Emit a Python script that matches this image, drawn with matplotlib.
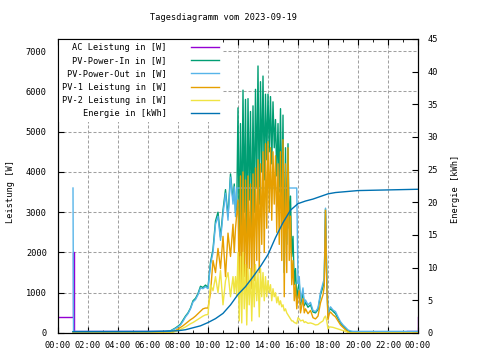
import matplotlib
matplotlib.use("Agg")
import matplotlib.pyplot as plt
import numpy as np


# "HH:MM" -> hours since midnight
def hours(stamps):
    return np.array([int(s[:2]) + int(s[3:]) / 60 for s in stamps])


title = "Tagesdiagramm vom 2023-09-19"
xtick_labels = ["00:00", "02:00", "04:00", "06:00", "08:00", "10:00", "12:00",
                "14:00", "16:00", "18:00", "20:00", "22:00", "00:00"]

# AC power (mostly hidden below PV-Power-Out during the day)
ac_time = ["00:00", "00:58", "01:02", "02:24", "03:00", "07:20", "23:16", "24:00"]
ac_w = [400, 2000, 40, 55, 40, np.nan, 50, 400]

# common time grid of the power series
power_time = [
    "01:00", "01:02", "06:00", "07:00", "07:20",
    "07:30", "07:40", "07:50", "08:00", "08:10", "08:20", "08:30", "08:40", "08:50",
    "09:00", "09:10", "09:20", "09:30", "09:40", "09:50",
    "10:00", "10:10", "10:20", "10:30", "10:40", "10:50",
    "11:00", "11:10", "11:20", "11:30", "11:40", "11:45",
    "11:50", "11:55", "12:00", "12:05", "12:10", "12:15", "12:20", "12:25", "12:30", "12:35",
    "12:40", "12:45", "12:50", "12:55", "13:00", "13:05", "13:10", "13:15", "13:20", "13:25",
    "13:30", "13:35", "13:40", "13:45", "13:50", "13:55", "14:00", "14:05", "14:10", "14:15",
    "14:20", "14:25", "14:30", "14:35", "14:40", "14:45", "14:50", "14:55", "15:00", "15:05",
    "15:10", "15:15", "15:20", "15:25", "15:30", "15:35", "15:40", "15:45", "15:50", "15:55",
    "16:00", "16:05", "16:10", "16:20", "16:25", "16:30", "16:40", "16:50",
    "17:00", "17:10", "17:20", "17:30", "17:40", "17:45", "17:50", "17:55",
    "18:00", "18:05", "18:10", "18:20", "18:30", "18:40", "18:50",
    "19:00", "19:10", "19:20", "19:30", "19:40", "19:50",
    "20:00", "21:00", "22:00", "23:00", "23:59",
]

pv_in = [
    30, 30, 30, 30, 45,
    55, 90, 125, 170, 220, 320, 420, 500, 620,
    800, 860, 980, 1160, 1130, 1190,
    1130, 1760, 2080, 2780, 3000, 2380,
    3050, 3560, 2900, 3950, 3300, 3700,
    3000, 3100, 5590, 2400, 5200, 2600, 6030, 3000, 5800, 2200,
    5820, 3300, 5500, 2500, 5640, 3000, 6050, 3600, 6630, 3200,
    6240, 4000, 6380, 3800, 5930, 4300, 5930, 4500, 5870, 4200,
    5740, 4600, 5300, 3900, 5200, 3500, 5570, 3000, 5410, 1500,
    4600, 2200, 4700, 2600, 3400, 1900, 2400, 1200, 1600, 800,
    1100, 1250, 700, 1000, 680, 760, 640, 700,
    520, 500, 580, 950, 1150, 1300, 3080, 1400,
    380, 560, 600, 540, 480, 360, 250,
    180, 120, 60, 35, 30, 30,
    30, 30, 30, 30, 30,
]

pv_out = [
    3600, 40, 40, 40, 40,
    50, 80, 110, 150, 200, 290, 400, 480, 600,
    770, 830, 950, 1120, 1100, 1150,
    1100, 1700, 2000, 2700, 2900, 2300,
    2950, 3470, 2800, 3870, 3200, 3630,
    2890, 3600, 3600, 3600, 3600, 3600, 3600, 3600, 3600, 3600,
    3600, 3600, 3600, 3600, 3600, 3600, 3600, 3600, 3600, 3600,
    3600, 3600, 3600, 3600, 3600, 3600, 3600, 3600, 3600, 3600,
    3600, 3600, 3600, 3600, 3600, 3600, 3600, 3600, 3600, 3600,
    3600, 3600, 3600, 3600, 3600, 3600, 3600, 3600, 3600, 3600,
    1230, 1400, 780, 1120, 740, 820, 700, 760,
    560, 530, 620, 1000, 1240, 1350, 3100, 1500,
    400, 600, 650, 570, 530, 400, 280,
    200, 140, 75, 50, 40, 40,
    40, 40, 40, 40, 40,
]

pv1 = [
    0, 0, 0, 0, 0,
    10, 30, 60, 100, 140, 180, 230, 280, 330,
    370, 420, 480, 540, 600, 620,
    620, 1000, 1800, 1500, 2100, 1600,
    2400, 1400, 2480, 1900, 2700, 2000,
    2600, 2950, 3300, 900, 3900, 1000, 4000, 1400, 3800, 700,
    3900, 1600, 3700, 1100, 3950, 1300, 4100, 1800, 4300, 1500,
    4200, 2200, 4500, 2000, 4700, 2600, 4750, 3000, 4600, 2800,
    4500, 3200, 4400, 2500, 4200, 2200, 4500, 1800, 4800, 900,
    4200, 1500, 4600, 1800, 2900, 1200, 1800, 800, 1200, 600,
    900, 1050, 500, 850, 500, 600, 480, 560,
    380, 350, 420, 750, 950, 1150, 3050, 1200,
    330, 480, 520, 450, 400, 300, 200,
    140, 80, 30, 0, 0, 0,
    0, 0, 0, 0, 0,
]

pv2 = [
    0, 0, 0, 0, 0,
    5, 20, 40, 60, 90, 120, 150, 190, 230,
    260, 300, 340, 380, 420, 450,
    460, 1200, 1050, 1400, 1000, 1550,
    700, 1300, 1500, 900, 1400, 1000,
    1400, 900, 2000, 300, 1900, 250, 2000, 600, 1700, 200,
    1600, 700, 1600, 300, 1500, 650, 1700, 800, 1500, 400,
    1600, 900, 1500, 800, 1400, 900, 1300, 1000, 1200, 800,
    1100, 900, 1000, 750, 900, 700, 800, 650, 700, 550,
    600, 500, 450, 400, 350, 300, 300, 260, 250, 230,
    380, 350, 300, 320, 260, 280, 240, 250,
    230, 200, 210, 260, 300, 380, 420, 300,
    100, 150, 150, 140, 120, 100, 80,
    60, 40, 15, 0, 0, 0,
    0, 0, 0, 0, 0,
]

# daily energy in kWh
energy_time = ["01:00", "06:00", "07:30", "08:00", "08:30", "09:00", "09:30", "10:00",
               "10:30", "11:00", "11:30", "12:00", "12:30", "13:00", "13:30", "14:00",
               "14:30", "15:00", "15:30", "16:00", "16:30", "17:00", "17:30", "18:00",
               "18:30", "19:00", "19:30", "20:00", "22:00", "24:00"]
energy_kwh = [0.2, 0.22, 0.3, 0.35, 0.5, 0.8, 1.1, 1.6,
              2.2, 3.0, 4.3, 5.9, 7.1, 8.6, 10.2, 12.0,
              14.6, 16.9, 18.8, 19.8, 20.2, 20.5, 20.9, 21.3,
              21.5, 21.6, 21.7, 21.8, 21.9, 22.0]

plt.rcParams["font.family"] = "DejaVu Sans Mono"
plt.rcParams["font.size"] = 6.2

fig = plt.figure(figsize=(4.8, 3.6), dpi=100)
ax = fig.add_axes([58 / 480, 27 / 360, 360 / 480, 294 / 360])
ax2 = ax.twinx()

lw = 1.0
t = hours(power_time)
ax.plot(hours(ac_time), ac_w, color="#9400d3", lw=lw, drawstyle="steps-post",
        label="AC Leistung in [W]")
ax.plot(t, pv_in, color="#009e73", lw=lw, label="PV-Power-In in [W]")
ax.plot(t, pv_out, color="#56b4e9", lw=lw, label="PV-Power-Out in [W]")
ax.plot(t, pv1, color="#e69f00", lw=lw, label="PV-1 Leistung in [W]")
ax.plot(t, pv2, color="#f0e442", lw=lw, label="PV-2 Leistung in [W]")
ax2.plot(hours(energy_time), energy_kwh, color="#0072b2", lw=lw, label="Energie in [kWh]")

ax.set_xlim(0, 24)
ax.set_ylim(0, 7300)
ax2.set_ylim(0, 45)

ax.set_xticks(np.arange(0, 25, 2))
ax.set_xticklabels(xtick_labels)
ax.set_xticks(np.arange(0, 25, 1), minor=True)
ax.set_yticks(np.arange(0, 7001, 1000))
ax2.set_yticks(np.arange(0, 46, 5))

ax.tick_params(axis="x", which="major", direction="in", length=4, top=True, pad=6)
ax.tick_params(axis="x", which="minor", direction="in", length=2, top=True)
ax.tick_params(axis="y", direction="in", length=4, right=False, pad=8)
ax2.tick_params(axis="y", direction="in", length=4, pad=7)

ax.grid(True, which="major", color="#a0a0a0", lw=0.75, linestyle=(0, (2.9, 1.9)))
ax.set_axisbelow(True)
for a in (ax, ax2):
    for s in a.spines.values():
        s.set_linewidth(0.8)
# keep the border above the opaque legend box
for s in ax2.spines.values():
    s.set_zorder(6)

ax.set_ylabel("Leistung [W]")
ax.yaxis.set_label_coords(-0.12, 0.48)
ax2.set_ylabel("Energie [kWh]")
ax2.yaxis.set_label_coords(1.092, 0.49)

fig.text(223 / 480, 1 - 18 / 360, title, ha="center", va="center")

# legend: text right aligned, sample line on the right, opaque box hides the grid
h1, l1 = ax.get_legend_handles_labels()
h2, l2 = ax2.get_legend_handles_labels()
leg = ax2.legend(h1 + h2, l1 + l2, loc="upper left", bbox_to_anchor=(0, 1),
                 borderaxespad=0, markerfirst=False, handlelength=3.3,
                 handletextpad=2.8, labelspacing=0.5, borderpad=0.45,
                 frameon=True, fancybox=False, framealpha=1)
leg.get_frame().set_edgecolor("none")
leg.get_frame().set_facecolor("white")

fig.savefig("out.png", dpi=100)
